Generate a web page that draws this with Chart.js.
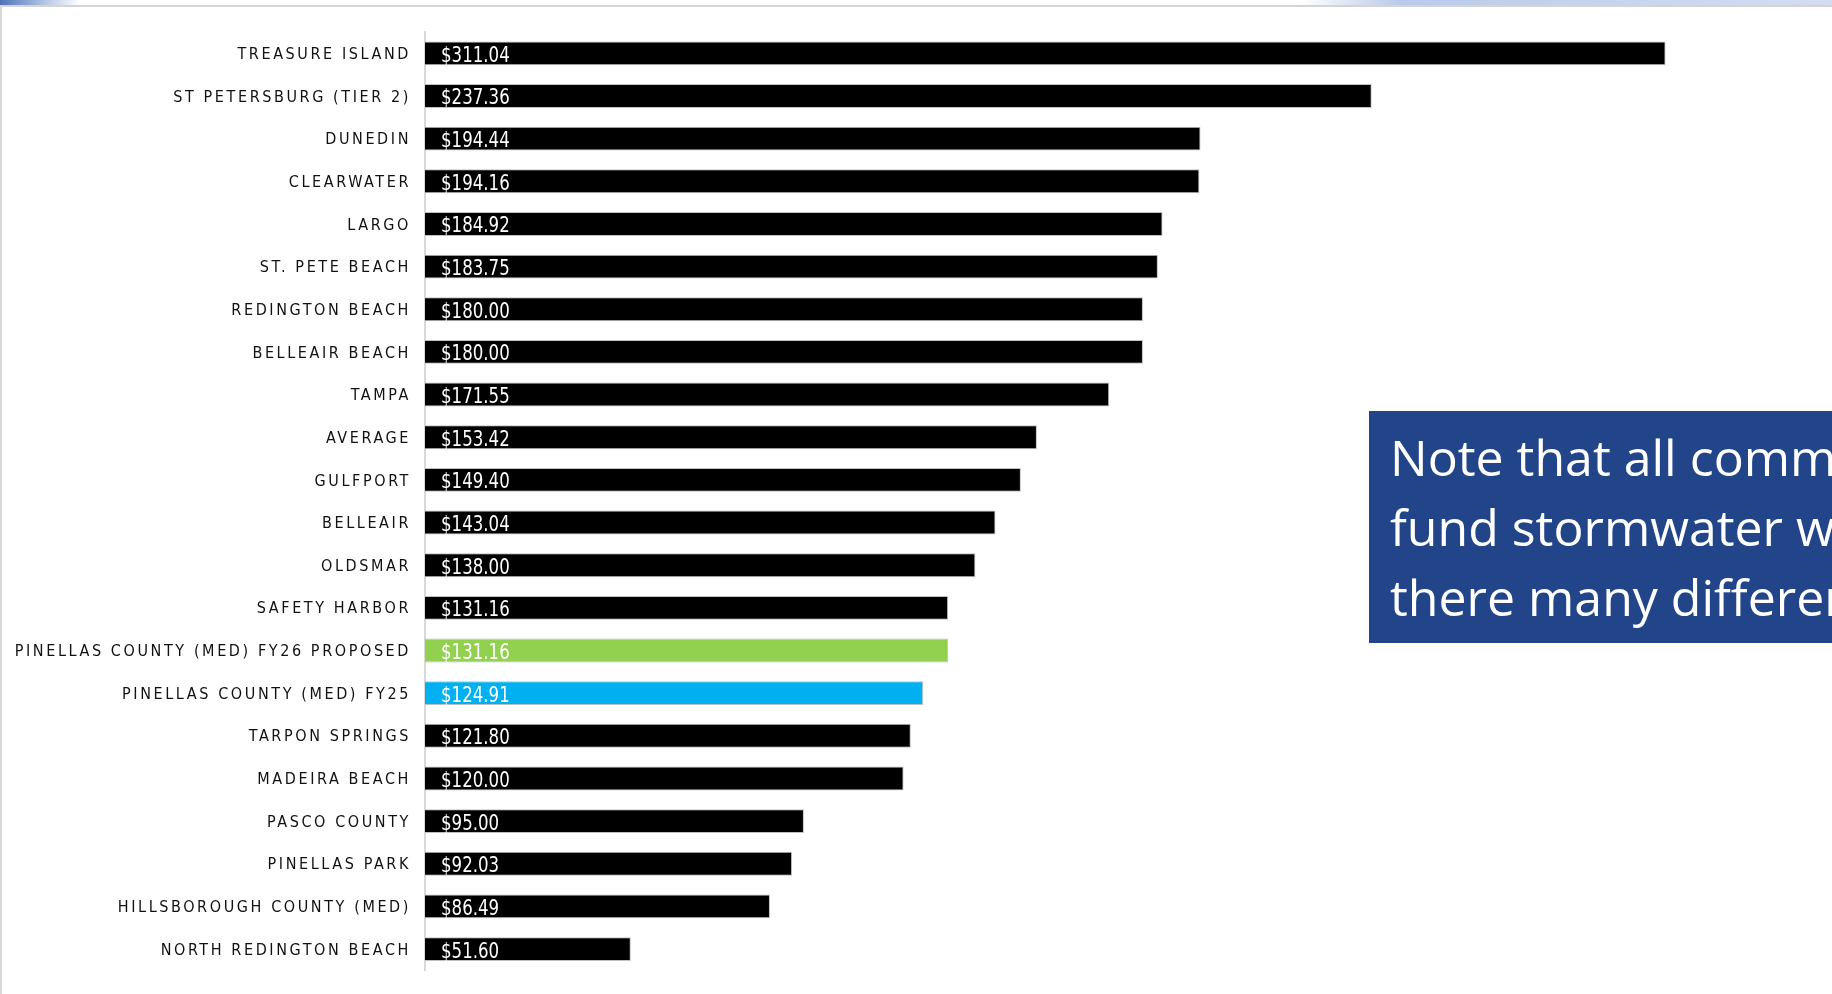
<!DOCTYPE html>
<html>
<head>
<meta charset="utf-8">
<script src="https://cdn.jsdelivr.net/npm/chart.js@4.4.1/dist/chart.umd.min.js"></script>
<style>
  html, body { margin: 0; padding: 0; background: #fff; }
  #wrap { position: relative; width: 1832px; height: 994px; overflow: hidden; }
  #topbar { position: absolute; left: 0; top: 0; width: 1832px; height: 5px;
    background: linear-gradient(90deg, #4f73b8 0px, #a9bde3 40px, #ffffff 80px, #ffffff 1300px, #b9cbea 1400px, #d3def2 1832px); }
  #topline { position: absolute; left: 0; top: 5px; width: 1832px; height: 2px; background: #d4d4d4; }
  #leftline { position: absolute; left: 0; top: 6px; width: 2px; height: 988px; background: #d9d9d9; }
  #note { position: absolute; left: 1369px; top: 411px; width: 463px; height: 232px;
    background: #22458a; color: #fff; overflow: hidden; white-space: nowrap;
    font-family: "Open Sans", sans-serif; font-size: 50px; line-height: 70px;
    padding: 11px 0 0 21px; box-sizing: border-box; }
  canvas { position: absolute; left: 0; top: 0; }
</style>
</head>
<body>
<div id="wrap">
  <canvas id="chart" width="1832" height="994"></canvas>
  <div id="topbar"></div>
  <div id="topline"></div>
  <div id="leftline"></div>
  <div id="note">Note that all communities<br>fund stormwater with fees but<br>there many different rates</div>
</div>
<script>
var communities = [
  'TREASURE ISLAND', 'ST PETERSBURG (TIER 2)', 'DUNEDIN', 'CLEARWATER', 'LARGO',
  'ST. PETE BEACH', 'REDINGTON BEACH', 'BELLEAIR BEACH', 'TAMPA', 'AVERAGE',
  'GULFPORT', 'BELLEAIR', 'OLDSMAR', 'SAFETY HARBOR', 'PINELLAS COUNTY (MED) FY26 PROPOSED',
  'PINELLAS COUNTY (MED) FY25', 'TARPON SPRINGS', 'MADEIRA BEACH', 'PASCO COUNTY',
  'PINELLAS PARK', 'HILLSBOROUGH COUNTY (MED)', 'NORTH REDINGTON BEACH'
];
var annualFee = [
  311.04, 237.36, 194.44, 194.16, 184.92,
  183.75, 180.00, 180.00, 171.55, 153.42,
  149.40, 143.04, 138.00, 131.16, 131.16,
  124.91, 121.80, 120.00, 95.00,
  92.03, 86.49, 51.60
];
var barColors = [];
for (var i in communities) {
  if (communities[i].indexOf('FY26') > -1) barColors.push('#92d050');
  else if (communities[i].indexOf('FY25') > -1) barColors.push('#00b0f0');
  else barColors.push('#000000');
}

// wide letter spacing for the category labels only
var spacingPlugin = {
  id: 'spacing',
  beforeDraw: function (chart) { chart.ctx.letterSpacing = '2.6px'; },
  beforeDatasetsDraw: function (chart) { chart.ctx.letterSpacing = '0px'; }
};

// "$xxx.xx" written inside each bar, narrowed a bit like the original
var valueLabels = {
  id: 'valueLabels',
  afterDatasetsDraw: function (chart) {
    var ctx = chart.ctx;
    var meta = chart.getDatasetMeta(0);
    meta.data.forEach(function (bar, i) {
      ctx.save();
      ctx.letterSpacing = '0px';
      ctx.fillStyle = '#ffffff';
      ctx.font = '21px "DejaVu Sans Condensed", sans-serif';
      ctx.textAlign = 'left';
      ctx.textBaseline = 'alphabetic';
      ctx.translate(bar.base + 16, bar.y + 8.5);
      ctx.scale(0.88, 1);
      ctx.fillText('$' + annualFee[i].toFixed(2), 0, 0);
      ctx.restore();
    });
  }
};

var chartdata = {
  labels: communities,
  datasets: [
    {
      label: 'Stormwater fee',
      backgroundColor: barColors,
      borderColor: '#c0c0c0',
      borderWidth: 1,
      borderSkipped: 'left',
      data: annualFee,
      barPercentage: 1,
      categoryPercentage: 0.56
    }
  ]
};

new Chart(document.getElementById('chart'), {
  type: 'bar',
  data: chartdata,
  plugins: [spacingPlugin, valueLabels],
  options: {
    indexAxis: 'y',
    responsive: false,
    animation: false,
    layout: { padding: { top: 32, bottom: 22, left: 0, right: 11 } },
    plugins: { legend: { display: false }, tooltip: { enabled: false } },
    scales: {
      x: { display: false, min: 0, max: 350 },
      y: {
        afterFit: function (scale) { scale.width = 425; },
        grid: { display: false, drawTicks: false },
        border: { display: true, color: '#d9d9d9', width: 2 },
        ticks: {
          padding: 14,
          labelOffset: 1.5,
          color: '#111111',
          autoSkip: false,
          font: { family: '"DejaVu Sans Condensed", sans-serif', size: 16 }
        }
      }
    }
  }
});
</script>
</body>
</html>
